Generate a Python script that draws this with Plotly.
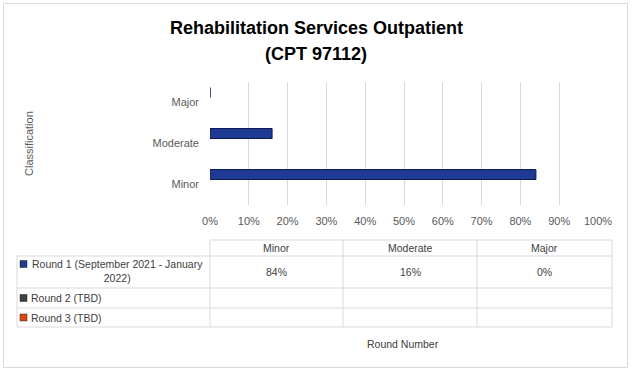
import plotly.graph_objects as go

W, H = 633, 375

# ---------------- data ----------------
title_lines = ["Rehabilitation Services Outpatient", "(CPT 97112)"]
categories = ["Minor", "Moderate", "Major"]
series_names = ["Round 1 (September 2021 - January 2022)", "Round 2 (TBD)", "Round 3 (TBD)"]
round1 = [84, 16, 0]
round2 = [None, None, None]
round3 = [None, None, None]
series_values = [round1, round2, round3]
series_colors = ["#1F3A93", "#404040", "#D9480F"]
x_ticks = [0, 10, 20, 30, 40, 50, 60, 70, 80, 90, 100]
y_title = "Classification"
x_title = "Round Number"

FONT = "Liberation Sans"
GRAY = "#595959"
TXT = "#404040"
LINE = "#D9D9D9"


def px(x):
    return x / W


def py(y):
    return 1 - y / H


def label(text, x, y, size=10.5, color=TXT, xanchor="center", **kw):
    return dict(text=text, x=px(x), y=py(y), xref="paper", yref="paper",
                showarrow=False, xanchor=xanchor, yanchor="middle",
                font=dict(family=FONT, size=size, color=color), **kw)


fig = go.Figure()
# Add in reverse so Round 1 sits at the top of each group (as in Excel)
for name, vals, col in reversed(list(zip(series_names, series_values, series_colors))):
    fig.add_trace(go.Bar(
        y=categories, x=vals, orientation="h", name=name,
        marker=dict(color=col, line=dict(color="#0B1A55", width=1)),
        showlegend=False, hoverinfo="x+y",
    ))

shapes = []
annotations = []

# outer border
shapes.append(dict(type="rect", xref="paper", yref="paper",
                   x0=px(3.5), x1=px(627.5), y0=py(367.5), y1=py(3.5),
                   line=dict(color=LINE, width=1), fillcolor="rgba(0,0,0,0)"))

# title
annotations.append(label("<b>" + title_lines[0] + "</b>", 316, 28, size=18, color="#000000"))
annotations.append(label("<b>" + title_lines[1] + "</b>", 316, 54, size=18, color="#000000"))

# y-axis title
annotations.append(label(y_title, 29, 144, size=11, color=GRAY, textangle=-90))

# ---------------- data table ----------------
col_edges = [210, 343, 477, 612]
row_edges = [240, 256, 288, 308, 327]
left = 17


def hline(y, x0, x1):
    shapes.append(dict(type="line", xref="paper", yref="paper",
                       x0=px(x0), x1=px(x1), y0=py(y), y1=py(y),
                       line=dict(color=LINE, width=1)))


def vline(x, y0, y1):
    shapes.append(dict(type="line", xref="paper", yref="paper",
                       x0=px(x), x1=px(x), y0=py(y0), y1=py(y1),
                       line=dict(color=LINE, width=1)))


hline(row_edges[0], col_edges[0], col_edges[-1])
for y in row_edges[1:]:
    hline(y, left, col_edges[-1])
vline(left, row_edges[1], row_edges[-1])
for x in col_edges:
    vline(x, row_edges[0], row_edges[-1])

# header
for i, cat in enumerate(categories):
    cx = (col_edges[i] + col_edges[i + 1]) / 2
    annotations.append(label(cat, cx, 248))

# rows
row_label_text = ["Round 1 (September 2021 - January<br>2022)", series_names[1], series_names[2]]
for r in range(3):
    y0, y1 = row_edges[r + 1], row_edges[r + 2]
    cy = (y0 + y1) / 2
    # legend key
    ky = 264 if r == 0 else cy
    shapes.append(dict(type="rect", xref="paper", yref="paper",
                       x0=px(20), x1=px(27), y0=py(ky + 3.5), y1=py(ky - 3.5),
                       line=dict(color="#222222", width=0.5), fillcolor=series_colors[r]))
    if r == 0:
        annotations.append(label(row_label_text[r], 117, cy - 1, align="center"))
    else:
        annotations.append(label(row_label_text[r], 29, cy, xanchor="left"))
    for c, v in enumerate(series_values[r]):
        cx = (col_edges[c] + col_edges[c + 1]) / 2
        txt = "" if v is None else f"{v}%"
        annotations.append(label(txt, cx, cy))

annotations.append(label(x_title, 403, 344))

fig.update_layout(
    width=W, height=H, autosize=False,
    margin=dict(l=0, r=0, t=0, b=0, pad=0, autoexpand=False),
    paper_bgcolor="white", plot_bgcolor="white",
    barmode="group", bargap=0.27, bargroupgap=0,
    shapes=shapes, annotations=annotations,
    xaxis=dict(domain=[px(210), px(598)], range=[0, 100], tickvals=x_ticks,
               ticktext=[f"{t}%" for t in x_ticks], showgrid=True, gridcolor=LINE,
               gridwidth=1, zeroline=False, showline=False, ticks="", automargin=False,
               ticklabelstandoff=8,
               tickfont=dict(family=FONT, size=11, color=GRAY), fixedrange=True),
    yaxis=dict(domain=[py(205), py(82)], range=[-0.5, 2.5], showgrid=False,
               zeroline=False, showline=False, ticks="", ticklabelstandoff=10,
               automargin=False,
               tickfont=dict(family=FONT, size=11, color=GRAY), fixedrange=True),
    hovermode=False,
)

fig.write_html("out.html", config={"displayModeBar": False},
               post_script="document.body.style.margin='0';")
